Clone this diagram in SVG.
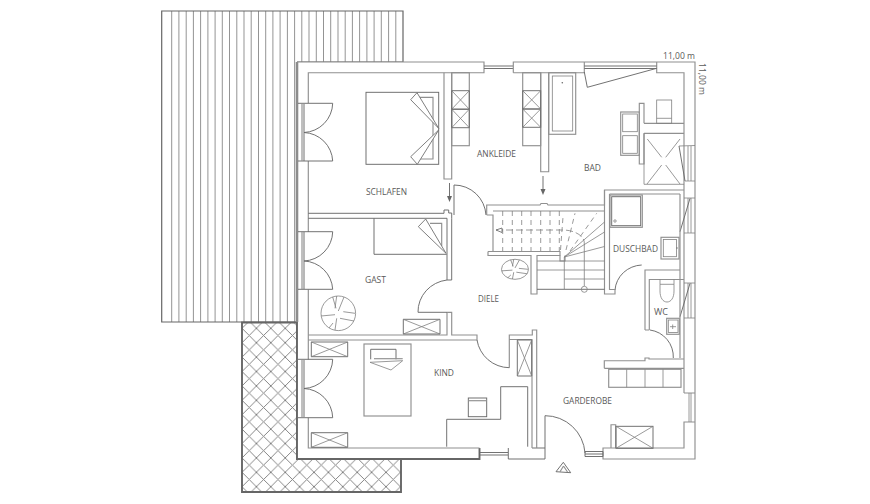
<svg xmlns="http://www.w3.org/2000/svg" width="870" height="504" viewBox="0 0 870 504">
<style>
.o{fill:none;stroke:#6a6a6a;stroke-width:.95}
.w{fill:none;stroke:#909090;stroke-width:1.15}
.t{fill:none;stroke:#808080;stroke-width:.8}
.f{fill:#fff;stroke:#707070;stroke-width:.9}
.l{font-family:"Open Sans","Liberation Sans",sans-serif;font-size:9.5px;fill:#5a5a5a;text-anchor:start}
</style>
<defs>
<pattern id="cross" patternUnits="userSpaceOnUse" x="242" y="328.3" width="14.4" height="14.4">
<path d="M0 0L14.4 14.4M14.4 0L0 14.4" stroke="#808080" stroke-width=".95" fill="none"/>
</pattern>
<g id="x"><rect class="o" width="1" height="1" vector-effect="non-scaling-stroke"/><path class="t" d="M0 0L1 1M1 0L0 1" vector-effect="non-scaling-stroke"/></g>
<g id="plant"><circle class="t" cx="338.3" cy="313.300" r="17.300" vector-effect="non-scaling-stroke"/><path class="t" vector-effect="non-scaling-stroke" d="M321 316L335 314.700M332.700 297L336 308.300M336.700 296L335 308.300M344 297L338.300 311M355 313.300L343.300 311.700M354 321L340 318.300M335 330L336.700 318.300M329 328L333 323"/></g>
</defs>
<rect width="870" height="504" fill="#fff"/>
<!-- roof -->
<path d="M171.7 11V322M178.9 11V322M186.2 11V322M193.4 11V322M200.6 11V322M207.9 11V322M215.1 11V322M222.3 11V322M229.5 11V322M236.8 11V322M244 11V322M251.2 11V322M258.5 11V322M265.7 11V322M272.9 11V322M280.1 11V322M287.4 11V322M294.6 11V322M301.8 11V62M309 11V62M316.3 11V62M323.5 11V62M330.7 11V62M338 11V62M345.2 11V62M352.4 11V62M359.6 11V62M366.9 11V62M374.1 11V62M381.3 11V62M388.6 11V62M395.8 11V62" stroke="#8e8e8e" stroke-width=".95" fill="none"/>
<path d="M297 62H403V11H161.7V322H297" fill="none" stroke="#666" stroke-width="1.2"/>
<!-- terrace -->
<path d="M242 322.500H297V459H401V492H242Z" fill="url(#cross)" stroke="#666" stroke-width="1.900"/>
<!-- outer walls -->
<path d="M297 62H484V72.700H308.300V448H479.500V459H297Z" fill="#fff" stroke="none"/>
<path d="M297 62V322" fill="none" stroke="#8c8c8c" stroke-width="2.600"/>
<path d="M297 322V459H479.500V448" fill="none" stroke="#666" stroke-width="1.900"/>
<path class="w" d="M297 62H484V72.700H308.300V103M308.300 161V232M308.300 289.500V359.500M308.300 417.700V448H479.500"/>
<path class="o" d="M484 66H513M484 68.500H513"/>
<path class="o" d="M480 452.500H508M480 455H508"/>
<path class="w" d="M513.300 72.700V62H695V459H603V448H684V422H695M684 393V72.700H656.700V62M584.300 62V72.700H513.300M684 393H695"/>
<path class="o" d="M508.300 448V459H545V448H532"/>
<path class="o" d="M585 451.500H603V456.500H585ZM585 454H603"/>
<path class="t" d="M689 393V422M691 393V422"/>
<path class="o" d="M584.300 66H656.700M584.300 68.500H656.700M584.300 72L587.300 87.300L656.700 68.300"/>
<!-- bad, duschbad, wc windows -->
<path class="t" d="M679 146L695 145.500M685 181H695M688 146V181M691 146V181"/><path class="o" d="M679 146L685 181"/>
<path class="t" d="M684 198H695M684 233H695M688 198V233M691 198V233"/><path class="o" d="M690 198.300L680 231.700"/>
<path class="t" d="M684 283H695M684 318H695M688 283V318M691 283V318"/><path class="o" d="M690 283.300L680 316.700"/>
<!-- french doors -->
<g id="door-schlafen"><path class="o" d="M298 103.300H332.700A30 30 0 0 1 304 132.500A30 30 0 0 1 332.700 161H298M304 104V161"/><path class="w" d="M302 104V161"/></g>
<g id="door-gast"><path class="o" d="M298 231.700H332.700A30 30 0 0 1 304 261A30 30 0 0 1 332.700 289.300H298M304 232V289"/><path class="w" d="M302 232V289"/></g>
<g id="door-kind"><path class="o" d="M298 359.300H332.700A30 30 0 0 1 304 388.500A30 30 0 0 1 332.700 417.700H298M304 360V417"/><path class="w" d="M302 360V417"/></g>
<!-- inner walls -->
<path class="w" d="M444 72.700V179H451.700V72.700"/>
<path class="o" d="M308.300 213.300H444V210H448.700V213H451.700V218.300M451.700 218.300V280H447V218.300H308.300"/>
<path class="w" d="M447 312.300H451.700V335H477V340H308.300M447 312.300V335H308.300"/>
<path class="w" d="M540.700 72.700V171.700H548.700V72.700"/>
<path class="w" d="M509.300 367.700V335H532.300V330H536.700V448M509.300 339.500H532V448"/>
<!-- doors -->
<path class="o" d="M454 215V185A32 32 0 0 1 486 215"/>
<path class="o" d="M447 280A33 32 0 0 0 418 312.300H447"/>
<path class="o" d="M477 340A33 33 0 0 0 509.300 367.700"/>
<path class="o" d="M545 448V415.700A40 40 0 0 1 585 453"/>
<path class="o" d="M641.700 265A28 27 0 0 0 615 290"/>
<path class="o" d="M650 330A27 27 0 0 1 673.300 358"/>
<!-- stairs walls -->
<path class="w" d="M486.700 215V205H540L541 203.500H547L548 205H604.500V190H684M486.700 215H493V251.500M488 251.500H493M493 211H604.500M488 251.500V255.500H531V294H537V255.500H560V251.500H493"/>
<path class="w" d="M609.500 194V289.500H615V294H604.500V190M609.500 194H680"/>
<path class="w" d="M560 255.500V261H565V255.500"/>
<path class="t" d="M502.700 211V251M512.300 211V251M521.700 211V251M531 211V251M540.700 211V251M550 211V251M559.300 211V251" stroke-dasharray="5 4"/>
<path class="t" d="M564.300 257L604.500 222M564.300 257L604.500 232M564.300 257L604.500 246.500"/>
<path class="t" d="M560.500 250L563 217M566 250L575 213.300M570 251L596.700 213.300" stroke-dasharray="5 4"/>
<path class="t" d="M537 261H604.500M537 270H604.500M564.300 279H604.500M564.300 257V289"/>
<path class="o" d="M537 289.300H604.500"/>
<path class="t" d="M496 230H563C573 230 584.300 235 584.300 243" stroke-dasharray="7 3"/>
<path class="t" d="M584.300 243V286"/>
<path class="f" d="M496 230L502 228V232.500Z"/>
<circle class="t" cx="584.300" cy="289.300" r="3"/>
<!-- WC and garderobe walls -->
<path class="w" d="M645 330V270H680M649.300 330V279.500H684M680 194V358M645 330H649.300"/>
<path class="w" d="M604.300 368.300V360.700H645V358H649V359H684M604.300 368.300H684"/>
<!-- schlafen -->
<g id="schlafen-bed"><rect class="o" x="366" y="92.300" width="72.700" height="72"/><path class="w" d="M418 97.300H433V159H418"/><path class="f" d="M438.700 128.300L417 92.700L410.700 99.700Z"/><path class="f" d="M438.700 130L417.300 164.300L410.700 156.700Z"/></g>
<!-- ankleide -->
<g id="ankleide-left"><rect class="w" x="451.700" y="72.700" width="17.600" height="73"/><use href="#x" transform="translate(451.700 90.700) scale(17.600 18.500)"/><use href="#x" transform="translate(451.700 109.200) scale(17.600 18.500)"/></g>
<g id="ankleide-right"><rect class="w" x="522.700" y="72.700" width="18" height="73"/><use href="#x" transform="translate(522.700 90.700) scale(18 18.300)"/><use href="#x" transform="translate(522.700 109) scale(18 18.300)"/></g>
<!-- bad -->
<g id="bad-fixtures">
<rect class="w" x="548.700" y="72.700" width="27" height="61.600"/><rect class="t" x="552.300" y="76" width="20.400" height="55"/><circle cx="562.300" cy="82.700" r=".8" fill="#666"/>
<path class="w" d="M644 123.300H684M644 133.300H684M644 123.300V103.300H639.300V164H644V133.300"/>
<rect class="w" x="620.700" y="112" width="18.600" height="43.300"/><rect class="t" x="622.700" y="114" width="14.600" height="17.700"/><rect class="t" x="622.700" y="135.700" width="14.600" height="17.600"/>
<rect class="t" x="656.700" y="100" width="15" height="23.300"/><path class="t" d="M656.700 118.300H671.700"/>
<path class="t" d="M644 133.300V184.300H684M647.300 139L661.700 157.300M680 139L665.700 157.300M647 184L661.700 165M680 184L665.700 165"/>
</g>
<!-- duschbad -->
<g id="duschbad-fixtures"><rect class="w" x="610" y="195" width="32.300" height="32.300"/><rect class="o" x="611.700" y="196.700" width="29" height="29"/><circle class="t" cx="615" cy="221" r="1.200"/><rect class="w" x="661" y="237.300" width="18" height="21.700"/><rect class="t" x="663.300" y="239.500" width="13.300" height="17.200"/><circle cx="677" cy="248" r=".7" fill="#666"/></g>
<!-- wc -->
<g id="wc-fixtures"><path class="t" d="M660 279.500V284.300H674V279.500M660 284.300V291C660 298 663 302 667 302S674 298 674 291V284.300"/><rect class="w" x="666.700" y="318.300" width="12.600" height="16"/><rect class="t" x="668.300" y="320" width="9.700" height="12.500"/><path class="t" d="M670 326.700H676M672.700 324.500V329"/></g>
<!-- gast -->
<g id="gast-bed"><path class="o" d="M374 218.300V254.300H446.700"/><path class="w" d="M430 223.300H441.700V246"/><path class="f" d="M446 253.300L425.700 219L418.300 226.700Z"/></g>
<use href="#x" transform="translate(403.300 319.300) scale(36.700 14.700)"/>
<use href="#plant"/>
<use href="#plant" transform="translate(515 269.300) scale(.78 .58) translate(-338.300 -313.300)"/>
<!-- kind -->
<use href="#x" transform="translate(311.300 342) scale(36.400 14.700)"/>
<use href="#x" transform="translate(311.300 432.700) scale(36.400 14.600)"/>
<use href="#x" transform="translate(517.300 340) scale(14.400 36)"/>
<g id="kind-bed"><rect class="w" x="364" y="344" width="47" height="72"/><path class="o" d="M370.700 359.300V349.300H396V359.300"/><path class="w" d="M374 358.700H402.700"/><path class="t" d="M370 362.300L402.700 360.700L391 370Z"/></g>
<g id="desk"><path class="o" d="M446.700 446.700V419.300H500.700V386.700H527.700V446.700"/><rect class="o" x="468.300" y="398" width="18.400" height="18.700"/><path class="w" d="M468.300 400.700H486.700"/></g>
<!-- garderobe -->
<g id="bench"><rect class="w" x="608.700" y="369.300" width="72.300" height="18"/><path class="t" d="M626.700 369.300V387.300M645 369.300V387.300M663 369.300V387.300"/></g>
<path class="w" d="M611 448V424.700H615.700V448"/>
<rect class="o" x="616" y="426.300" width="37" height="22"/><path class="t" d="M616 426.300L653 448.300M653 426.300L616 448.300"/>
<path class="o" d="M563.300 462.300L556 471.700L570.700 472.700Z"/><path class="w" d="M563.500 466L560 471.700M563.500 466L567.500 472"/>
<!-- arrows -->
<path class="o" d="M449.500 183V196" stroke-width="1.200"/><path d="M447 196H452L449.500 202Z" fill="#666"/>
<path class="o" d="M543 176V189" stroke-width="1.200"/><path d="M540.500 189H545.500L543 195Z" fill="#666"/>
<!-- labels -->
<text class="l" x="366" y="194.500" textLength="41" lengthAdjust="spacingAndGlyphs">SCHLAFEN</text>
<text class="l" x="477" y="156.500" textLength="39" lengthAdjust="spacingAndGlyphs">ANKLEIDE</text>
<text class="l" x="584" y="170.500" textLength="17" lengthAdjust="spacingAndGlyphs">BAD</text>
<text class="l" x="365" y="282.500" textLength="21" lengthAdjust="spacingAndGlyphs">GAST</text>
<text class="l" x="478" y="301.500" textLength="21" lengthAdjust="spacingAndGlyphs">DIELE</text>
<text class="l" x="613" y="251.500" textLength="45" lengthAdjust="spacingAndGlyphs">DUSCHBAD</text>
<text class="l" x="654" y="314.500" textLength="14" lengthAdjust="spacingAndGlyphs">WC</text>
<text class="l" x="434" y="375.500" textLength="20" lengthAdjust="spacingAndGlyphs">KIND</text>
<text class="l" x="563" y="403.500" textLength="49" lengthAdjust="spacingAndGlyphs">GARDEROBE</text>
<text class="l" x="663" y="58.500" textLength="32" lengthAdjust="spacingAndGlyphs">11,00 m</text>
<text class="l" transform="translate(698.500 63) rotate(90)" textLength="32" lengthAdjust="spacingAndGlyphs">11,00 m</text>
</svg>
